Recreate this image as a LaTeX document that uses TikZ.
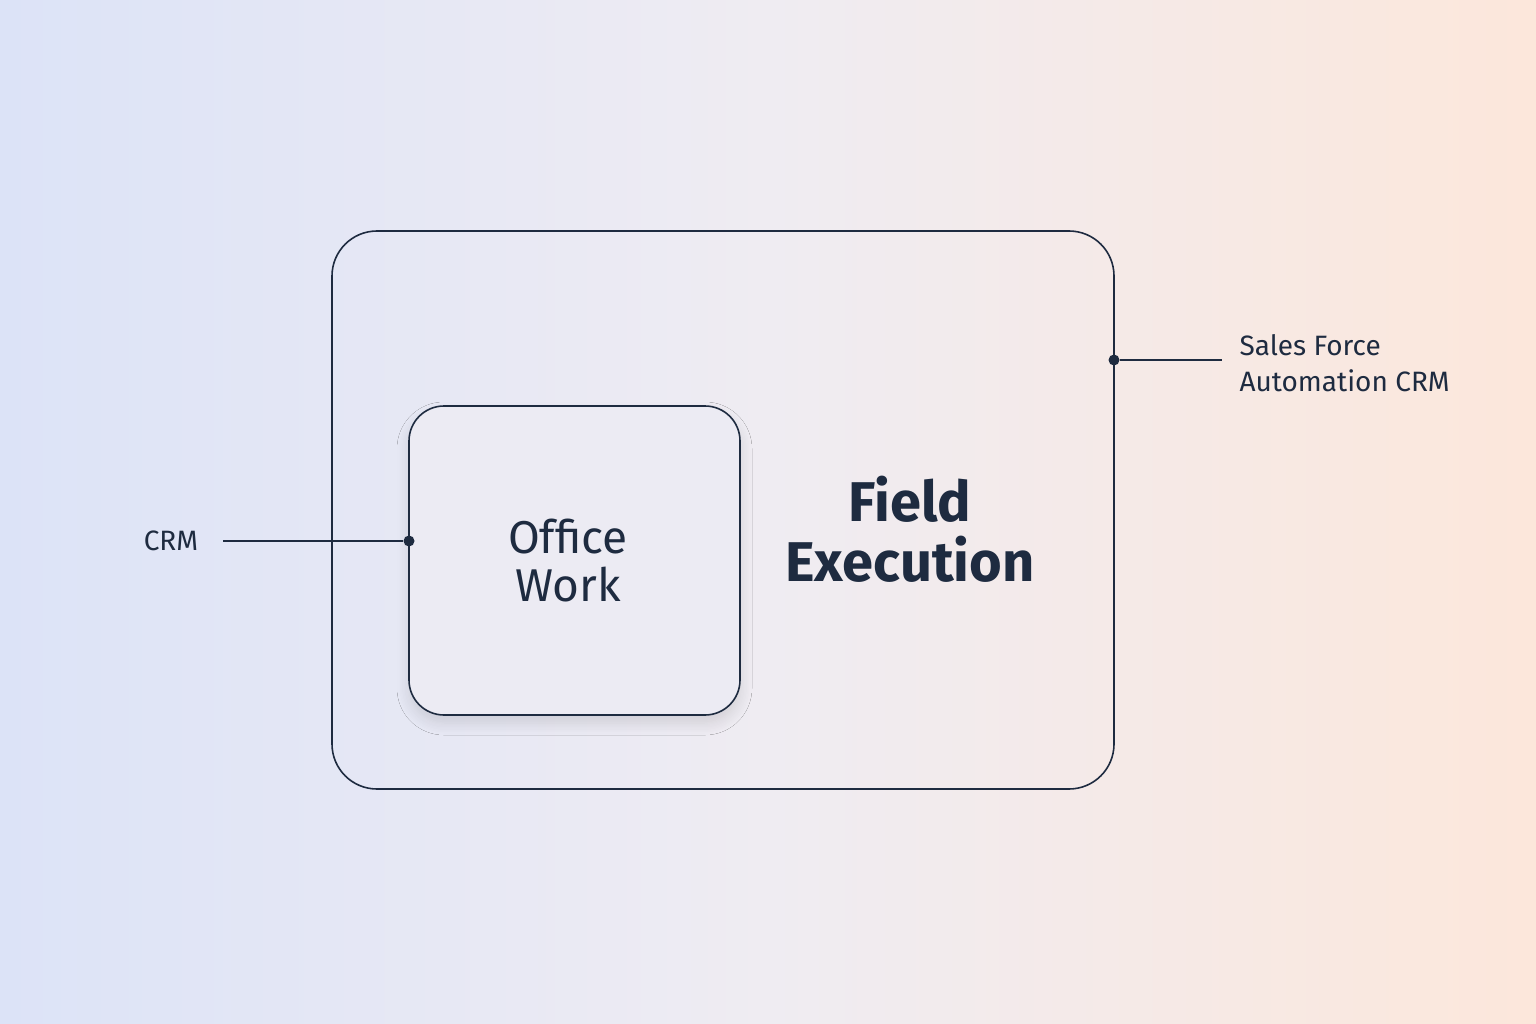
\documentclass[tikz,border=0pt]{standalone}
\usepackage{fontspec}
\setmainfont{Fira Sans}
\usetikzlibrary{shadows.blur}
\definecolor{ink}{HTML}{1E2B40}
\definecolor{bgl}{HTML}{DCE3F7}
\definecolor{bgm}{HTML}{EFECF2}
\definecolor{bgr}{HTML}{FCE7DB}
\definecolor{inner}{HTML}{ECEBF3}
\begin{document}
\begin{tikzpicture}[x=1pt,y=-1pt,
  box/.style={draw=ink,line width=1.6pt},
  conn/.style={draw=ink,line width=1.4pt},
  dot/.style={circle,fill=ink,inner sep=0,minimum size=11pt},
  lbl/.style={text=ink,font=\fontsize{28}{36}\selectfont,align=left},
  big/.style={text=ink,font=\fontsize{56}{60}\selectfont\bfseries,align=center}]
\useasboundingbox (0,0) rectangle (1536,1024);
\fill[left color=bgl,right color=bgr,middle color=bgm] (0,0) rectangle (1536,1024);
\draw[box,rounded corners=45] (332,231) rectangle (1114,789);
\draw[box,fill=inner,rounded corners=35,blur shadow={shadow blur steps=10,shadow xshift=0pt,shadow yshift=-8pt,shadow opacity=12,shadow blur radius=12pt}] (409,406) rectangle (740,715);
\node[big,font=\fontsize{46}{48}\selectfont] (office) at (568,561) {Office\\Work};
\node[big] (field) at (910,529) {Field\\Execution};
\node[dot] (d1) at (409,541) {};
\node[dot] (d2) at (1114,360) {};
\node[lbl] (crm) at (171,541) {CRM};
\coordinate (c1) at (223,541);
\coordinate (c2) at (1222,360);
\node[lbl,anchor=west] (sfa) at (1236,363) {Sales Force\\Automation CRM};
\draw[conn] (c1) -- (d1);
\draw[conn] (d2) -- (c2);
\end{tikzpicture}
\end{document}
